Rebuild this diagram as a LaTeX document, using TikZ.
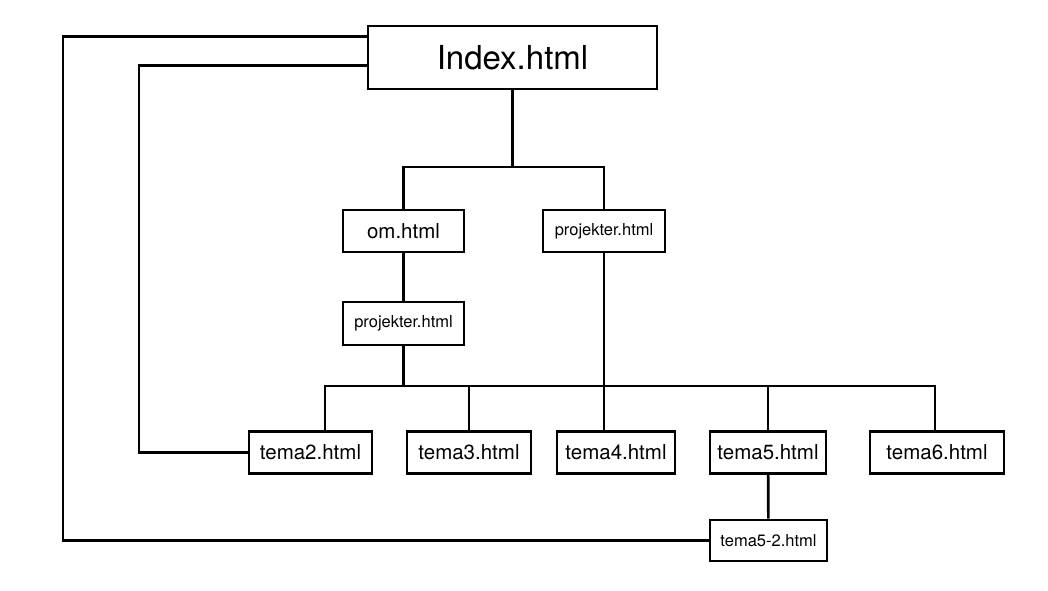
\documentclass[tikz,border=0pt]{standalone}
\usepackage{fontspec}
\setmainfont{TeX Gyre Heros}
\usepackage{tikz}
\usetikzlibrary{positioning}

\begin{document}
\begin{tikzpicture}[
    x=1pt, y=-1pt,
    every path/.style={line width=2.7pt},
    page/.style={draw, line width=2.7pt, inner sep=0pt, minimum height=42pt},
    bigtxt/.style={font=\fontsize{33}{36}\selectfont},
    midtxt/.style={font=\fontsize{20.5}{24}\selectfont},
    smalltxt/.style={font=\fontsize{16.5}{20}\selectfont}
]
\useasboundingbox (0,0) rectangle (1048,590);

% pages
\node[page, bigtxt, minimum width=289pt, minimum height=63pt] (index) at (512.5,57.5) {Index.html};
\node[page, midtxt, minimum width=121pt] (om) at (403.5,231) {om.html};
\node[page, smalltxt, minimum width=122pt] (proj1) at (604,231) {projekter.html};
\node[page, smalltxt, minimum width=121pt, minimum height=43pt] (proj2) at (403.5,323.5) {projekter.html};
\node[page, midtxt, minimum width=123pt] (tema2) at (310.5,452.5) {tema2.html};
\node[page, midtxt, minimum width=124pt] (tema3) at (469,452.5) {tema3.html};
\node[page, midtxt, minimum width=118pt] (tema4) at (616,452.5) {tema4.html};
\node[page, midtxt, minimum width=116pt] (tema5) at (768,452.5) {tema5.html};
\node[page, midtxt, minimum width=134pt] (tema6) at (937,452.5) {tema6.html};
\node[page, smalltxt, minimum width=117pt, minimum height=41pt] (tema52) at (768.5,540.5) {tema5-2.html};

% helper points
\coordinate (br) at (0,167);
\coordinate (busL) at (325,386);
\coordinate (busR) at (935,386);
\coordinate (outer) at (63,0);
\coordinate (inner) at (139,0);

% tree
\draw (index.south) -- (index.south |- br);
\draw (om.north) |- (proj1.north |- br) -- (proj1.north);
\draw (om) -- (proj2);
\draw (proj2.south) -- (proj2.south |- busL);
\draw (proj1.south) -- (proj1.south |- tema4.north);
\draw (busL |- tema2.north) -- (busL) -- (busR) -- (busR |- tema6.north);
\draw (tema3.north) -- (tema3.north |- busL);
\draw (tema5.north) -- (tema5.north |- busL);
\draw (tema5) -- (tema52);

% links back to index
\draw ([yshift=-12pt]index.north west) -| (outer |- tema52) -- (tema52.west);
\draw ([yshift=-41pt]index.north west) -| (inner |- tema2) -- (tema2.west);
\end{tikzpicture}
\end{document}
